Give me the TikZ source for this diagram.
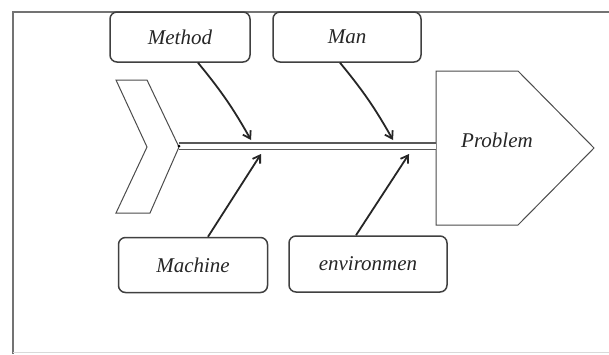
\documentclass[tikz,border=0pt]{standalone}
\usepackage{fontspec}
\setmainfont{Liberation Serif}
\usetikzlibrary{arrows.meta}
\tikzset{% styles for the fishbone parts
    cause/.style={draw=black!75, line width=1.5pt, rounded corners=7pt, font=\fontsize{21}{24}\selectfont\itshape, text=black!85},
    e/.style={-{Straight Barb[length=7pt,width=9pt]}, line width=1.8pt, black!85},
    bone/.style={draw=black!70, line width=1pt}}

\begin{document}
\begin{tikzpicture}[x=1pt,y=-1pt]
  \useasboundingbox (0,0) rectangle (609,354);
  \fill[white] (0,0) rectangle (609,354);
  % frame
  \draw[black!55, line width=1.5pt] (609,12) -- (13,12) -- (13,354);
  \draw[black!15, line width=1pt] (13,352) -- (609,352);

  \node[cause, minimum width=140, minimum height=50] (method) at (180,37) {Method};
  \node[cause, minimum width=148, minimum height=50] (man) at (347,37) {Man};
  \node[cause, minimum width=149, minimum height=55] (machine) at (193,265) {Machine};
  \node[cause, minimum width=158, minimum height=56] (envir) at (368,264) {environmen};

  % tail and head of the fish
  \draw[bone] (116,80) -- (147,80) -- (179,147) -- (150,213) -- (116,213) -- (147,147) -- cycle;
  \draw[bone] (436,71) -- (518,71) -- (594,148) -- (518,225) -- (436,225) -- cycle;
  \node[font=\fontsize{21}{24}\selectfont\itshape, text=black!85] (problem) at (497,140) {Problem};

  \coordinate (tail) at (179,146);
  \coordinate (head) at (436,146);
  \draw[black!65, line width=1.2pt, double=white, double distance=5pt] (tail) -- (head);
  \fill[black] (tail) circle (1.5);

  \coordinate (m1) at (251,140);
  \coordinate (m2) at (393,140);
  \coordinate (m3) at (261,154);
  \coordinate (m4) at (409,154);

  \draw[e] ([xshift=18]method.south) to[bend left=5] (m1);
  \draw[e] ([xshift=-7]man.south) to[bend left=5] (m2);
  \draw[e] ([xshift=15]machine.north) -- (m3);
  \draw[e] ([xshift=-12]envir.north) -- (m4);
\end{tikzpicture}
\end{document}
